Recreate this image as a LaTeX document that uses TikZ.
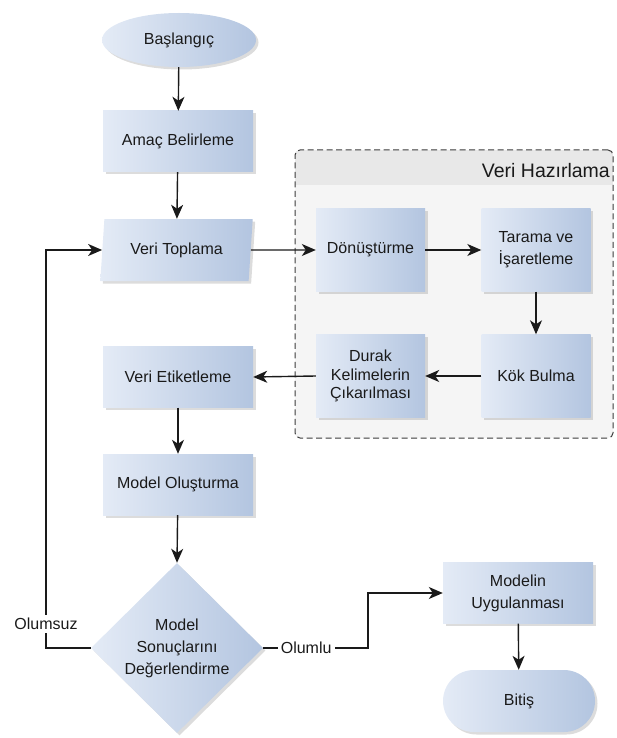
\documentclass[tikz,border=0pt]{standalone}
\usepackage{fontspec}
\setmainfont{Liberation Sans}
\usetikzlibrary{shapes.geometric,shapes.misc,shadows,arrows.meta}
\definecolor{boxlight}{HTML}{E4EBF6}
\definecolor{boxdark}{HTML}{B3C5E0}
\definecolor{hdrbg}{HTML}{E8E8E8}
\definecolor{bodybg}{HTML}{F5F5F5}
\definecolor{ink}{HTML}{1A1A1A}
\begin{document}
\begin{tikzpicture}[x=1pt,y=-1pt,
  shape box/.style={draw=none, left color=boxlight, right color=boxdark,
    drop shadow={shadow xshift=2.5pt,shadow yshift=-2.5pt,opacity=0.28},
    font=\fontsize{16}{22}\selectfont, text=ink, align=center, inner sep=0pt},
  rbox/.style={shape box, rectangle, minimum width=150pt, minimum height=61pt},
  sbox/.style={shape box, rectangle, minimum width=109pt, minimum height=83pt},
  lbl/.style={fill=white, font=\fontsize{16}{20}\selectfont, text=ink, inner sep=3pt},
  arr/.style={-{Stealth[length=14pt,width=12pt,inset=4pt]}, line width=1.4pt, ink},
  plain/.style={line width=1.4pt, ink}]
\useasboundingbox (0,0) rectangle (616,738);

% container
\node[draw=none, fill=bodybg, rounded corners=5pt, minimum width=318pt, minimum height=288pt, inner sep=0pt] (vh) at (454,294) {};
\begin{scope}
  \clip[rounded corners=5pt] (vh.north west) rectangle (vh.south east);
  \fill[hdrbg] (vh.north west) rectangle (613,185);
\end{scope}
\node[draw=ink!85, dashed, dash pattern=on 6pt off 3.5pt, line width=1pt, rounded corners=5pt, minimum width=318pt, minimum height=288pt, inner sep=0pt] (vhb) at (454,294) {};
\node[anchor=base east, font=\fontsize{19.5}{22}\selectfont, text=ink, inner sep=0pt] (vhtitle) at (610,178) {Veri Hazırlama};

% main column
\node[shape box, ellipse, minimum width=154pt, minimum height=54pt] (start) at (179,40) {Başlangıç};
\node[rbox] (amac) at (178,141.5) {Amaç Belirleme};
\node[shape box, trapezium, trapezium left angle=80, trapezium right angle=100, trapezium stretches=true, minimum width=153pt, minimum height=62pt] (vt) at (176.5,250) {Veri Toplama};
\node[rbox] (etiket) at (178,377) {Veri Etiketleme};
\node[rbox] (model) at (178,484.5) {Model Oluşturma};
\node[shape box, diamond, minimum width=172pt, minimum height=170pt] (karar) at (177,648) {Model\\Sonuçlarını\\Değerlendirme};

% inner boxes
\node[sbox] (donus) at (370.5,250) {Dönüştürme};
\node[sbox] (tarama) at (536,250) {Tarama ve\\İşaretleme};
\node[sbox] (kok) at (536,376) {Kök Bulma};
\node[sbox, font=\fontsize{16}{18.5}\selectfont] (durak) at (370.5,376) {Durak\\Kelimelerin\\Çıkarılması};

% right column
\node[rbox] (uygula) at (518,593) {Modelin\\Uygulanması};
\node[shape box, rounded rectangle, minimum width=152pt, minimum height=62pt] (bitis) at (519,701) {Bitiş};

% connectors
\draw[arr] (start) -- (amac);
\draw[arr] (amac) -- (vt);
\draw[arr] (vt.east) -- (donus.west);
\draw[arr] (donus) -- (tarama);
\draw[arr] (tarama) -- (kok);
\draw[arr] (kok) -- (durak);
\draw[arr] (durak.west) -- (etiket.east);
\draw[arr] (etiket) -- (model);
\draw[arr] (model) -- (karar.north);
\coordinate (lcorner) at (46,648);
\draw[arr] (karar.west) -- (lcorner) |- (vt.west);
\node[lbl] (olumsuz) at (46,624) {Olumsuz};
\coordinate (rcorner) at (368,648);
\draw[arr] (karar.east) -- node[lbl, pos=0.41] (olumlu) {Olumlu} (rcorner) |- (uygula.west);
\draw[arr] (uygula) -- (bitis);
\end{tikzpicture}
\end{document}
